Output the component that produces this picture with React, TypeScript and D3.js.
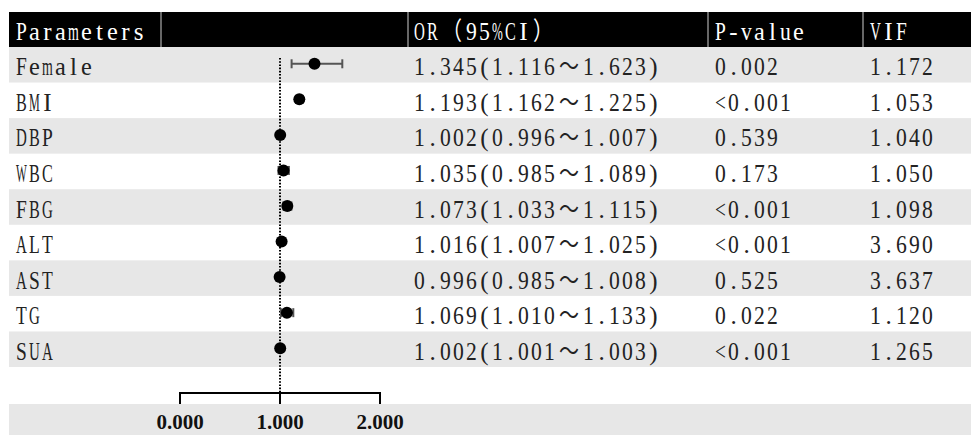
import React from "react";
import * as d3 from "d3";

const params = ["Female", "BMI", "DBP", "WBC", "FBG", "ALT", "AST", "TG", "SUA"];
const oddsRatios = [1.345, 1.193, 1.002, 1.035, 1.073, 1.016, 0.996, 1.069, 1.002];
const lowerCI = [1.116, 1.162, 0.996, 0.985, 1.033, 1.007, 0.985, 1.01, 1.001];
const upperCI = [1.623, 1.225, 1.007, 1.089, 1.115, 1.025, 1.008, 1.133, 1.003];
const pValues = ["0.002", "<0.001", "0.539", "0.173", "<0.001", "<0.001", "0.525", "0.022", "<0.001"];
const vifValues = ["1.172", "1.053", "1.040", "1.050", "1.098", "3.690", "3.637", "1.120", "1.265"];
const headers = ["Parameters", "", "OR（95%CI）", "P-value", "VIF"];
const axisTicks = [0, 1, 2];

const W = 971;
const H = 435;
const left = 9;
// column text starts and header separators
const colText = [15, 0, 413, 714, 869];
const colSep = [161, 408, 708, 863];

// SimSun-like look: serif glyphs squeezed into a fixed 13px cell grid
const cellW = 13;
const glyphTarget = 10.8;
const fontSize = 25;
const cellFont = "'Liberation Serif', 'Noto Sans CJK SC', serif";

// rough Times advance widths (em) to pick a squeeze per glyph
const glyphEm: Record<string, number> = {
  a: 0.444, c: 0.444, e: 0.444, f: 0.333, i: 0.278, l: 0.278, m: 0.778, r: 0.333,
  s: 0.389, t: 0.278, v: 0.5, u: 0.5,
  A: 0.722, B: 0.667, C: 0.667, D: 0.722, F: 0.556, G: 0.722, I: 0.333, L: 0.611,
  M: 0.889, O: 0.722, P: 0.556, R: 0.667, S: 0.556, T: 0.611, U: 0.722, V: 0.722, W: 0.944,
  ".": 0.25, "(": 0.333, ")": 0.333, "-": 0.333, "%": 0.833, "<": 0.564,
};

function CellText(props: { x: number; y: number; fill: string; text: string }) {
  const chars = Array.from(props.text);
  let cell = 0;
  const glyphs = chars.map((ch, i) => {
    const wide = ch.charCodeAt(0) > 0x2000;
    const n = wide ? 2 : 1;
    const cx = (cell + n / 2) * cellW;
    cell += n;
    const em = wide ? 1 : glyphEm[ch] ?? 0.5;
    const s = wide ? 0.8 : Math.min(1, glyphTarget / (em * fontSize));
    return (
      <text
        key={i}
        transform={`translate(${props.x + cx},${props.y}) scale(${s},1)`}
        textAnchor="middle"
      >
        {ch}
      </text>
    );
  });
  return (
    <g fontFamily={cellFont} fontSize={fontSize} fill={props.fill}>
      {glyphs}
    </g>
  );
}

export default function App() {
  const y = d3.scaleBand<string>().domain(params).range([47, 367]);
  const x = d3.scaleLinear().domain([0, 2]).range([180, 380]);
  const axisY = 393;
  const bottomBand = 404;

  return (
    <svg width={W} height={H} style={{ position: "absolute", left: 0, top: 0, background: "#fff" }}>
      {/* header */}
      <rect x={left} y={12} width={W - left} height={35} fill="#000" />
      {colSep.map((cx) => (
        <line key={cx} x1={cx} x2={cx} y1={12} y2={48} stroke="#8a8a8a" strokeWidth={1.5} />
      ))}
      {headers.map((h, i) =>
        h ? <CellText key={i} x={colText[i]} y={40} fill="#fff" text={h} /> : null
      )}

      {/* row bands */}
      {params.map((p, i) =>
        i % 2 === 0 ? (
          <rect key={p} x={left} y={y(p)!} width={W - left} height={y.bandwidth()} fill="#e7e7e7" />
        ) : null
      )}
      <rect x={left} y={bottomBand} width={W - left} height={H - bottomBand} fill="#e7e7e7" />

      {/* reference line at OR = 1 */}
      <line
        x1={x(1)}
        x2={x(1)}
        y1={58}
        y2={axisY}
        stroke="#000"
        strokeWidth={2}
        strokeDasharray="1.6,1.6"
      />

      {/* table text */}
      {params.map((p, i) => {
        const base = y(p)! + y.bandwidth() / 2 + 10.5;
        const orText = `${oddsRatios[i].toFixed(3)}(${lowerCI[i].toFixed(3)}～${upperCI[i].toFixed(3)})`;
        return (
          <g key={p}>
            <CellText x={colText[0]} y={base} fill="#222" text={p} />
            <CellText x={colText[2]} y={base} fill="#222" text={orText} />
            <CellText x={colText[3]} y={base} fill="#222" text={pValues[i]} />
            <CellText x={colText[4]} y={base} fill="#222" text={vifValues[i]} />
          </g>
        );
      })}

      {/* CI bars and points */}
      {params.map((p, i) => {
        const cy = y(p)! + y.bandwidth() / 2 - 1;
        const x0 = x(lowerCI[i]);
        const x1 = x(upperCI[i]);
        return (
          <g key={p}>
            <line x1={x0} x2={x1} y1={cy} y2={cy} stroke="#555" strokeWidth={2} />
            <line x1={x0} x2={x0} y1={cy - 4.5} y2={cy + 4.5} stroke="#555" strokeWidth={2} />
            <line x1={x1} x2={x1} y1={cy - 4.5} y2={cy + 4.5} stroke="#555" strokeWidth={2} />
            <circle cx={x(oddsRatios[i])} cy={cy} r={6} fill="#000" />
          </g>
        );
      })}

      {/* axis */}
      <line x1={x(0)} x2={x(2)} y1={axisY} y2={axisY} stroke="#000" strokeWidth={2} />
      {axisTicks.map((t) => (
        <g key={t}>
          <line x1={x(t)} x2={x(t)} y1={axisY - 1} y2={bottomBand} stroke="#000" strokeWidth={2} />
          <text
            x={x(t)}
            y={429}
            textAnchor="middle"
            fontFamily="'Liberation Serif', 'Times New Roman', serif"
            fontWeight="bold"
            fontSize={21}
            fill="#111"
          >
            {t.toFixed(3)}
          </text>
        </g>
      ))}
    </svg>
  );
}
